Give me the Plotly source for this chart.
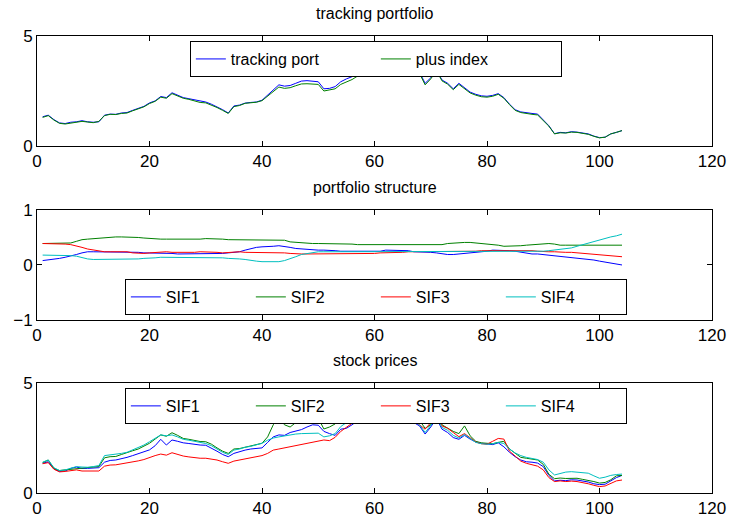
import plotly.graph_objects as go

t = list(range(1, 105))

tracking_port = [1.33, 1.40, 1.20, 1.05, 1.02, 1.08, 1.10, 1.15, 1.10, 1.08,
                 1.10, 1.40, 1.45, 1.44, 1.50, 1.52, 1.62, 1.72, 1.80, 1.96,
                 2.05, 2.25, 2.20, 2.42, 2.30, 2.20, 2.15, 2.10, 2.02, 2.00,
                 1.90, 1.78, 1.65, 1.50, 1.82, 1.86, 1.95, 1.98, 2.00, 2.08,
                 2.30, 2.55, 2.78, 2.72, 2.75, 2.85, 2.95, 2.97, 2.96, 2.92,
                 2.60, 2.62, 2.70, 2.92, 3.05, 3.15, 3.30, 3.45, 3.70, 3.85,
                 3.90, 3.35, 3.80, 3.95, 3.35, 3.75, 3.60, 3.35, 2.85, 3.10,
                 3.45, 3.00, 2.85, 2.60, 2.85, 2.65, 2.45, 2.35, 2.28, 2.26,
                 2.30, 2.38, 2.20, 1.90, 1.65, 1.55, 1.50, 1.48, 1.45, 1.20,
                 0.92, 0.56, 0.62, 0.60, 0.65, 0.63, 0.60, 0.55, 0.45, 0.38,
                 0.40, 0.55, 0.62, 0.70]

plus_index = [1.30, 1.38, 1.18, 1.03, 1.00, 1.05, 1.08, 1.12, 1.09, 1.06,
              1.12, 1.38, 1.44, 1.43, 1.48, 1.50, 1.60, 1.70, 1.78, 1.93,
              2.03, 2.22, 2.17, 2.38, 2.27, 2.17, 2.12, 2.06, 1.98, 1.96,
              1.87, 1.75, 1.62, 1.48, 1.79, 1.84, 1.94, 1.97, 1.99, 2.06,
              2.26, 2.48, 2.68, 2.62, 2.65, 2.74, 2.82, 2.83, 2.82, 2.80,
              2.50, 2.54, 2.60, 2.80, 2.92, 3.02, 3.18, 3.33, 3.62, 3.80,
              3.86, 3.30, 3.78, 3.92, 3.30, 3.72, 3.58, 3.30, 2.78, 3.05,
              3.42, 2.96, 2.81, 2.56, 2.80, 2.61, 2.41, 2.31, 2.24, 2.22,
              2.26, 2.35, 2.17, 1.88, 1.62, 1.52, 1.47, 1.44, 1.41, 1.17,
              0.90, 0.55, 0.60, 0.59, 0.63, 0.62, 0.58, 0.53, 0.44, 0.37,
              0.40, 0.55, 0.62, 0.70]

w_sif1 = [0.08, 0.09, 0.11, 0.12, 0.14, 0.16, 0.19, 0.22, 0.24, 0.24,
          0.24, 0.24, 0.24, 0.24, 0.24, 0.24, 0.24, 0.23, 0.22, 0.22,
          0.21, 0.21, 0.21, 0.21, 0.20, 0.20, 0.20, 0.20, 0.21, 0.21,
          0.21, 0.21, 0.21, 0.22, 0.23, 0.24, 0.27, 0.30, 0.32, 0.33,
          0.33, 0.34, 0.35, 0.34, 0.32, 0.30, 0.29, 0.29, 0.28, 0.27,
          0.27, 0.27, 0.26, 0.25, 0.25, 0.25, 0.24, 0.24, 0.24, 0.24,
          0.25, 0.27, 0.27, 0.27, 0.27, 0.26, 0.24, 0.24, 0.24, 0.23,
          0.22, 0.20, 0.19, 0.19, 0.20, 0.20, 0.22, 0.23, 0.23, 0.25,
          0.27, 0.27, 0.27, 0.26, 0.25, 0.23, 0.21, 0.20, 0.20, 0.19,
          0.18, 0.17, 0.16, 0.15, 0.14, 0.12, 0.11, 0.10, 0.09, 0.07,
          0.05, 0.03, 0.02, 0.00]

w_sif2 = [0.39, 0.39, 0.39, 0.39, 0.39, 0.40, 0.43, 0.46, 0.47, 0.48,
          0.48, 0.49, 0.50, 0.51, 0.51, 0.51, 0.51, 0.50, 0.49, 0.48,
          0.48, 0.47, 0.47, 0.47, 0.47, 0.47, 0.46, 0.46, 0.47, 0.48,
          0.48, 0.47, 0.47, 0.46, 0.46, 0.46, 0.46, 0.46, 0.45, 0.45,
          0.46, 0.46, 0.46, 0.45, 0.42, 0.41, 0.41, 0.40, 0.39, 0.39,
          0.39, 0.39, 0.38, 0.38, 0.38, 0.38, 0.37, 0.37, 0.36, 0.36,
          0.36, 0.36, 0.36, 0.36, 0.36, 0.36, 0.36, 0.36, 0.36, 0.36,
          0.36, 0.37, 0.39, 0.40, 0.41, 0.41, 0.41, 0.40, 0.39, 0.39,
          0.38, 0.36, 0.34, 0.34, 0.35, 0.35, 0.36, 0.37, 0.38, 0.39,
          0.39, 0.38, 0.36, 0.36, 0.36, 0.36, 0.36, 0.36, 0.36, 0.36,
          0.36, 0.36, 0.36, 0.36]

w_sif3 = [0.39, 0.39, 0.39, 0.39, 0.38, 0.37, 0.35, 0.32, 0.29, 0.27,
          0.25, 0.24, 0.24, 0.24, 0.24, 0.24, 0.22, 0.21, 0.21, 0.22,
          0.23, 0.23, 0.24, 0.23, 0.23, 0.23, 0.22, 0.23, 0.24, 0.24,
          0.23, 0.23, 0.22, 0.23, 0.24, 0.24, 0.23, 0.23, 0.23, 0.23,
          0.23, 0.23, 0.22, 0.22, 0.21, 0.20, 0.20, 0.20, 0.20, 0.20,
          0.20, 0.21, 0.21, 0.21, 0.21, 0.21, 0.21, 0.21, 0.21, 0.21,
          0.22, 0.22, 0.23, 0.23, 0.23, 0.24, 0.24, 0.24, 0.24, 0.24,
          0.24, 0.24, 0.24, 0.24, 0.24, 0.24, 0.24, 0.25, 0.26, 0.26,
          0.27, 0.27, 0.27, 0.27, 0.27, 0.27, 0.27, 0.26, 0.25, 0.24,
          0.24, 0.24, 0.23, 0.23, 0.23, 0.22, 0.22, 0.21, 0.20, 0.19,
          0.18, 0.17, 0.16, 0.15]

w_sif4 = [0.18, 0.18, 0.18, 0.18, 0.18, 0.17, 0.16, 0.13, 0.11, 0.10,
          0.10, 0.10, 0.10, 0.10, 0.10, 0.10, 0.11, 0.11, 0.12, 0.12,
          0.13, 0.14, 0.14, 0.14, 0.14, 0.14, 0.14, 0.14, 0.14, 0.14,
          0.14, 0.13, 0.13, 0.12, 0.12, 0.11, 0.10, 0.08, 0.07, 0.06,
          0.06, 0.06, 0.06, 0.08, 0.11, 0.15, 0.19, 0.21, 0.23, 0.24,
          0.24, 0.24, 0.24, 0.24, 0.24, 0.24, 0.24, 0.24, 0.24, 0.24,
          0.24, 0.24, 0.24, 0.24, 0.24, 0.24, 0.24, 0.24, 0.24, 0.24,
          0.24, 0.24, 0.24, 0.24, 0.24, 0.24, 0.24, 0.24, 0.24, 0.24,
          0.24, 0.24, 0.24, 0.24, 0.24, 0.24, 0.24, 0.24, 0.24, 0.25,
          0.26, 0.27, 0.28, 0.29, 0.31, 0.34, 0.37, 0.40, 0.43, 0.46,
          0.48, 0.51, 0.53, 0.56]

p_sif1 = [1.35, 1.42, 1.10, 0.98, 1.00, 1.12, 1.18, 1.12, 1.12, 1.14,
          1.15, 1.40, 1.48, 1.50, 1.55, 1.62, 1.70, 1.78, 1.85, 1.96,
          2.15, 2.44, 2.18, 2.41, 2.35, 2.28, 2.25, 2.20, 2.18, 2.17,
          2.05, 1.90, 1.75, 1.65, 1.80, 1.88, 1.95, 2.00, 2.02, 2.05,
          2.30, 2.55, 2.64, 2.62, 2.75, 2.82, 2.88, 3.00, 3.10, 3.08,
          2.80, 2.70, 2.62, 2.90, 2.94, 3.10, 3.30, 3.47, 3.60, 3.55,
          3.70, 3.24, 3.60, 3.50, 3.17, 3.40, 3.20, 3.05, 2.68, 3.00,
          3.39, 2.90, 2.75, 2.52, 2.44, 2.62, 2.45, 2.32, 2.26, 2.22,
          2.20, 2.28, 2.10, 1.85, 1.65, 1.50, 1.42, 1.40, 1.36, 1.20,
          0.80, 0.55, 0.58, 0.56, 0.60, 0.59, 0.55, 0.50, 0.42, 0.38,
          0.40, 0.55, 0.70, 0.80]

p_sif2 = [1.38, 1.50, 1.12, 1.02, 1.05, 1.08, 1.12, 1.15, 1.16, 1.18,
          1.20, 1.60, 1.65, 1.66, 1.75, 1.82, 1.92, 2.00, 2.12, 2.26,
          2.45, 2.64, 2.58, 2.74, 2.62, 2.48, 2.44, 2.38, 2.34, 2.33,
          2.22, 2.05, 1.90, 1.80, 2.00, 2.02, 2.08, 2.12, 2.18, 2.26,
          2.55, 3.10, 3.45, 3.10, 3.00, 3.20, 3.40, 3.55, 3.50, 3.40,
          2.91, 3.00, 3.14, 3.40, 3.55, 3.65, 3.75, 3.85, 3.90, 3.88,
          3.95, 3.50, 3.80, 3.70, 3.40, 3.60, 3.45, 3.30, 2.94, 3.10,
          3.50, 3.10, 2.95, 2.80, 2.70, 3.05, 2.60, 2.35, 2.28, 2.25,
          2.24, 2.30, 2.35, 2.00, 1.80, 1.62, 1.58, 1.55, 1.50, 1.30,
          0.85, 0.65, 0.68, 0.66, 0.68, 0.67, 0.62, 0.58, 0.52, 0.45,
          0.48, 0.60, 0.78, 0.80]

p_sif3 = [1.33, 1.38, 1.08, 0.96, 0.98, 1.02, 1.05, 1.00, 0.99, 0.98,
          1.00, 1.22, 1.27, 1.28, 1.32, 1.35, 1.40, 1.46, 1.52, 1.62,
          1.70, 1.77, 1.72, 1.83, 1.75, 1.68, 1.64, 1.60, 1.58, 1.58,
          1.55, 1.50, 1.42, 1.35, 1.45, 1.50, 1.55, 1.58, 1.62, 1.70,
          1.80, 1.95, 2.00, 2.05, 2.10, 2.15, 2.20, 2.25, 2.33, 2.36,
          2.41, 2.38, 2.53, 2.80, 3.00, 3.17, 3.35, 3.55, 3.70, 3.75,
          3.80, 3.45, 3.65, 3.55, 3.30, 3.45, 3.30, 3.10, 2.90, 3.20,
          3.45, 3.05, 2.94, 2.75, 2.56, 2.70, 2.50, 2.32, 2.24, 2.22,
          2.35, 2.48, 2.45, 1.90, 1.68, 1.45, 1.35, 1.28, 1.22, 1.05,
          0.70, 0.52, 0.55, 0.52, 0.54, 0.52, 0.48, 0.42, 0.35, 0.29,
          0.32, 0.45, 0.55, 0.59]

p_sif4 = [1.40, 1.50, 1.15, 1.02, 1.05, 1.12, 1.20, 1.18, 1.17, 1.20,
          1.25, 1.70, 1.73, 1.74, 1.80, 1.85, 1.95, 2.05, 2.18, 2.33,
          2.50, 2.64, 2.60, 2.64, 2.55, 2.44, 2.40, 2.35, 2.28, 2.25,
          2.15, 2.00, 1.85, 1.75, 1.95, 2.00, 2.08, 2.12, 2.18, 2.26,
          2.40, 2.50, 2.55, 2.60, 2.65, 2.68, 2.70, 2.70, 2.72, 2.72,
          2.55, 2.60, 2.70, 3.02, 3.20, 3.35, 3.50, 3.65, 3.75, 3.70,
          3.75, 3.24, 3.60, 3.50, 3.17, 3.45, 3.30, 3.10, 2.75, 3.05,
          3.40, 2.98, 2.85, 2.62, 2.50, 2.66, 2.48, 2.30, 2.24, 2.22,
          2.24, 2.30, 2.25, 2.00, 1.82, 1.70, 1.62, 1.58, 1.52, 1.40,
          1.05, 0.82, 0.90, 0.95, 0.97, 0.95, 0.92, 0.90, 0.78, 0.67,
          0.72, 0.80, 0.84, 0.86]

titles = ["tracking portfolio", "portfolio structure", "stock prices"]
sif_names = ["SIF1", "SIF2", "SIF3", "SIF4"]
x_ticks = [0, 20, 40, 60, 80, 100, 120]

BLUE, GREEN, RED, CYAN = "#0000ff", "#008000", "#ff0000", "#00bfbf"
sif_colors = [BLUE, GREEN, RED, CYAN]

fig = go.Figure()

def add(y, name, color, xa, ya, legend):
    fig.add_trace(go.Scatter(x=t, y=y, name=name, mode="lines",
                             line=dict(color=color, width=1),
                             xaxis=xa, yaxis=ya, legend=legend))

add(tracking_port, "tracking port", BLUE, "x", "y", "legend")
add(plus_index, "plus index", GREEN, "x", "y", "legend")
for nm, c, w in zip(sif_names, sif_colors, [w_sif1, w_sif2, w_sif3, w_sif4]):
    add(w, nm, c, "x2", "y2", "legend2")
for nm, c, p in zip(sif_names, sif_colors, [p_sif1, p_sif2, p_sif3, p_sif4]):
    add(p, nm, c, "x3", "y3", "legend3")

FONT = "Liberation Sans, Arial, sans-serif"
TICKF = dict(family=FONT, size=17, color="black")

def xax(anchor):
    return dict(range=[0, 120], tickvals=x_ticks, ticks="inside", ticklen=5,
                showline=True, mirror="ticks", linecolor="black", linewidth=1,
                tickcolor="black", showgrid=False, zeroline=False,
                tickfont=TICKF, anchor=anchor, domain=[0, 1], automargin=False)

def yax(rng, vals, dom, anchor):
    return dict(range=rng, tickvals=vals, ticks="inside", ticklen=5,
                showline=True, mirror="ticks", linecolor="black", linewidth=1,
                tickcolor="black", showgrid=False, zeroline=False,
                tickfont=TICKF, anchor=anchor, domain=dom, automargin=False)

doms = [[0.7593, 1.0], [0.3786, 0.6193], [0.0, 0.2407]]

leg_common = dict(orientation="h", bgcolor="white", bordercolor="black",
                  borderwidth=1, font=dict(family=FONT, size=16, color="black"),
                  xanchor="center", xref="paper", yref="paper",
                  entrywidthmode="pixels")

fig.update_layout(
    width=732, height=520,
    margin=dict(l=37, r=20, t=36, b=27, autoexpand=False),
    paper_bgcolor="white", plot_bgcolor="white",
    showlegend=True,
    xaxis=xax("y"), yaxis=yax([0, 5], [0, 5], doms[0], "x"),
    xaxis2=xax("y2"), yaxis2=yax([-1, 1], [-1, 0, 1], doms[1], "x2"),
    xaxis3=xax("y3"), yaxis3=yax([0, 5], [0, 5], doms[2], "x3"),
    legend=dict(leg_common, x=0.502, y=0.989, yanchor="top", entrywidth=140),
    legend2=dict(leg_common, x=0.502, y=0.3895, yanchor="bottom", entrywidth=80),
    legend3=dict(leg_common, x=0.502, y=0.2298, yanchor="top", entrywidth=80),
)

for title, d in zip(titles, doms):
    fig.add_annotation(text=title, x=0.5, y=d[1], xref="paper", yref="paper",
                       xanchor="center", yanchor="bottom", yshift=12,
                       showarrow=False,
                       font=dict(family=FONT, size=16, color="black"))

fig.write_html("out.html")
